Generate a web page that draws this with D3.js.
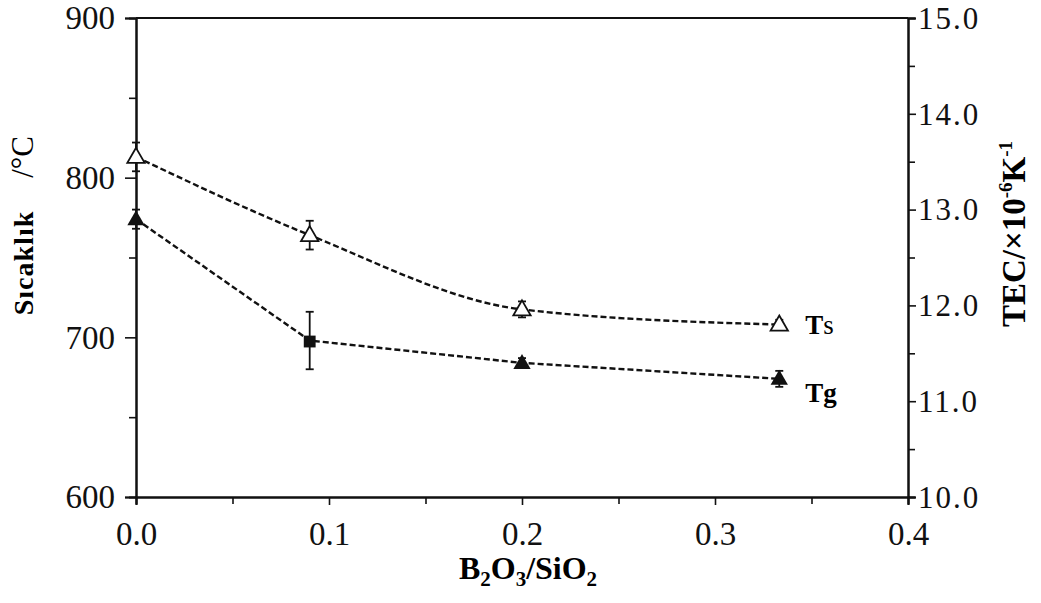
<!DOCTYPE html>
<html><head><meta charset="utf-8">
<script src="https://cdn.jsdelivr.net/npm/d3@7"></script>
<style>body{margin:0;background:#fff}svg{display:block}</style>
</head><body>
<svg id="c" width="1041" height="603"></svg>
<script>
const ratio = [0.0, 0.09, 0.2, 0.3333];
const tsValues = [813, 764, 717.5, 708];
const tsErrors = [9, 9, 5, 3];
const tgValues = [774, 698, 684, 674];
const tgErrors = [6, 18, 3, 5];
const tgMarkers = ["triangle", "square", "triangle", "triangle"];
const xTicks = [0.0, 0.1, 0.2, 0.3, 0.4];
const yTicks = [600, 700, 800, 900];
const rTicks = [10, 11, 12, 13, 14, 15];
const seriesNames = ["Ts", "Tg"];

const svg = d3.select("#c");
const L = 136, R = 908, T = 18, B = 497;
const x = d3.scaleLinear().domain([0, 0.4]).range([L, R]);
const y = d3.scaleLinear().domain([600, 900]).range([B, T]);
const yr = d3.scaleLinear().domain([10, 15]).range([B, T]);
const font = "'Liberation Serif','Times New Roman',serif";

svg.append("line").attr("x1", L).attr("x2", R).attr("y1", T).attr("y2", T)
  .attr("stroke", "#111").attr("stroke-width", 2);

function styleAxis(g) {
  g.selectAll("path").attr("stroke", "#111").attr("stroke-width", 2);
  g.selectAll("line").attr("stroke", "#111").attr("stroke-width", 1.6);
  g.selectAll("text").attr("font-family", font).attr("fill", "#111");
}

const gx2 = svg.append("g").attr("transform", `translate(0,${B})`)
  .call(d3.axisBottom(x).tickValues(d3.range(0.05, 0.4, 0.1)).tickSize(7).tickFormat(""));
const gy2 = svg.append("g").attr("transform", `translate(${L},0)`)
  .call(d3.axisLeft(y).tickValues([650, 750, 850]).tickSize(7).tickFormat(""));
const gr2 = svg.append("g").attr("transform", `translate(${R},0)`)
  .call(d3.axisRight(yr).tickValues([10.5, 11.5, 12.5, 13.5, 14.5]).tickSize(7).tickFormat(""));
[gx2, gy2, gr2].forEach(styleAxis);

const gx = svg.append("g").attr("transform", `translate(0,${B})`)
  .call(d3.axisBottom(x).tickValues(xTicks).tickSize(8).tickFormat(d3.format(".1f")));
gx.selectAll("text").attr("font-size", 33).attr("y", 48).attr("dy", 0);
const gy = svg.append("g").attr("transform", `translate(${L},0)`)
  .call(d3.axisLeft(y).tickValues(yTicks).tickSize(11).tickPadding(10).tickFormat(d3.format("d")));
gy.selectAll("text").attr("font-size", 33).attr("dy", "0.33em");
const gr = svg.append("g").attr("transform", `translate(${R},0)`)
  .call(d3.axisRight(yr).tickValues(rTicks).tickSize(8).tickPadding(2).tickFormat(d3.format(".1f")));
gr.selectAll("text").attr("font-size", 31).attr("letter-spacing", 2).attr("dy", "0.33em");
[gx, gy, gr].forEach(styleAxis);

const tsData = ratio.map((r, i) => ({ x: r, y: tsValues[i], e: tsErrors[i], m: "open" }));
const tgData = ratio.map((r, i) => ({ x: r, y: tgValues[i], e: tgErrors[i], m: tgMarkers[i] }));

svg.append("path").datum(tsData)
  .attr("d", d3.line().x(d => x(d.x)).y(d => y(d.y)).curve(d3.curveMonotoneX))
  .attr("fill", "none").attr("stroke", "#111").attr("stroke-width", 2.4).attr("stroke-dasharray", "6,3");
svg.append("path").datum(tgData)
  .attr("d", d3.line().x(d => x(d.x)).y(d => y(d.y)))
  .attr("fill", "none").attr("stroke", "#111").attr("stroke-width", 2.4).attr("stroke-dasharray", "6,3");

function errBars(data) {
  const g = svg.append("g").attr("stroke", "#111").attr("stroke-width", 1.8);
  data.forEach(d => {
    g.append("line").attr("x1", x(d.x)).attr("x2", x(d.x)).attr("y1", y(d.y + d.e)).attr("y2", y(d.y - d.e));
    [d.y + d.e, d.y - d.e].forEach(v => g.append("line")
      .attr("x1", x(d.x) - 4).attr("x2", x(d.x) + 4).attr("y1", y(v)).attr("y2", y(v)));
  });
}
errBars(tsData);
errBars(tgData);

const tri = d3.symbol().type(d3.symbolTriangle).size(130);
const sq = d3.symbol().type(d3.symbolSquare).size(140);
svg.append("g").selectAll("path").data(tsData).join("path")
  .attr("transform", d => `translate(${x(d.x)},${y(d.y) + 1})`)
  .attr("d", tri).attr("fill", "#fff").attr("stroke", "#111").attr("stroke-width", 1.8);
svg.append("g").selectAll("path").data(tgData).join("path")
  .attr("transform", d => `translate(${x(d.x)},${y(d.y) + 1})`)
  .attr("d", d => d.m === "square" ? sq() : tri()).attr("fill", "#111");

const tsl = svg.append("text").attr("x", x(0.3333) + 26).attr("y", y(tsValues[3]) + 9)
  .attr("font-family", font).attr("font-size", 27);
tsl.append("tspan").attr("font-weight", "bold").text(seriesNames[0].charAt(0));
tsl.append("tspan").text(seriesNames[0].slice(1));
svg.append("text").attr("x", x(0.3333) + 26).attr("y", y(tgValues[3]) + 23)
  .attr("font-family", font).attr("font-weight", "bold").attr("font-size", 27).text(seriesNames[1]);

const xt = svg.append("text").attr("x", 528).attr("y", 579).attr("text-anchor", "middle")
  .attr("font-family", font).attr("font-weight", "bold").attr("font-size", 32);
xt.append("tspan").text("B");
xt.append("tspan").attr("font-size", 21).attr("dy", 7).text("2");
xt.append("tspan").attr("dy", -7).text("O");
xt.append("tspan").attr("font-size", 21).attr("dy", 7).text("3");
xt.append("tspan").attr("dy", -7).text("/SiO");
xt.append("tspan").attr("font-size", 21).attr("dy", 7).text("2");

svg.append("text").attr("transform", "translate(33,263) rotate(-90)").attr("text-anchor", "middle")
  .attr("font-family", font).attr("font-weight", "bold").attr("font-size", 28).attr("letter-spacing", 1).text("Sıcaklık");
svg.append("text").attr("transform", "translate(33,157) rotate(-90)").attr("text-anchor", "middle")
  .attr("font-family", font).attr("font-size", 31).text("/°C");

const rt = svg.append("text").attr("transform", "translate(1025,234) rotate(-90)").attr("text-anchor", "middle")
  .attr("font-family", font).attr("font-weight", "bold").attr("font-size", 33);
rt.append("tspan").text("TEC/×10");
rt.append("tspan").attr("font-size", 19).attr("dy", -13).text("-6");
rt.append("tspan").attr("dy", 13).text("K");
rt.append("tspan").attr("font-size", 19).attr("dy", -13).text("-1");
</script>
</body></html>
